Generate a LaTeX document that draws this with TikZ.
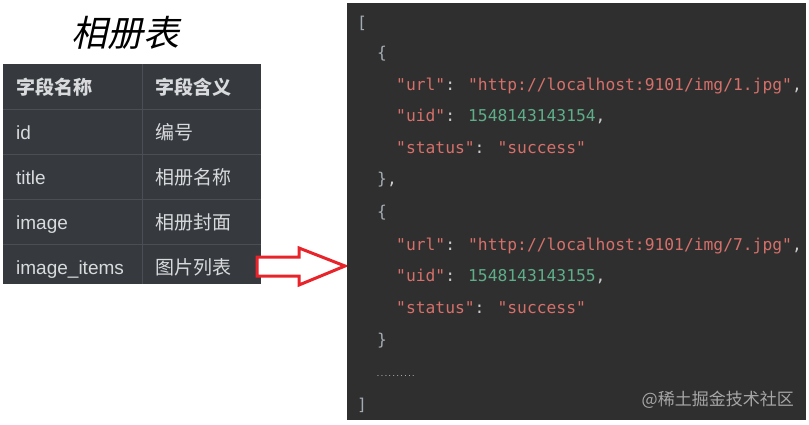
\documentclass[tikz,border=0pt]{standalone}
\usepackage{fontspec}
\setmainfont{Liberation Sans}
\newfontfamily\cjk{Noto Sans CJK SC}
\newfontfamily\cjkslant[FakeSlant=0.22]{Noto Sans CJK SC}
\newfontfamily\codefont{DejaVu Sans Mono}
\definecolor{tablebg}{HTML}{363A3F}
\definecolor{tableline}{HTML}{4A4F55}
\definecolor{tabletext}{HTML}{D8DADC}
\definecolor{codebg}{HTML}{2F2F2F}
\definecolor{jsonstr}{HTML}{D5706A}
\definecolor{jsonnum}{HTML}{5FAE8A}
\definecolor{jsonpunct}{HTML}{CCCCCC}
\definecolor{jsonbrack}{HTML}{A3ACB4}
\definecolor{arrowred}{HTML}{E8232A}
\newcommand{\js}[1]{\textcolor{jsonstr}{#1}}
\newcommand{\jn}[1]{\textcolor{jsonnum}{#1}}
\newcommand{\jp}[1]{\textcolor{jsonpunct}{#1}}
\begin{document}
\begin{tikzpicture}[x=1pt, y=-1pt,
    cell/.style={anchor=base west, inner sep=0, text=tabletext, font=\fontsize{19}{19}\selectfont\cjk},
    code/.style={anchor=west, inner sep=0, text height=12pt, text depth=3pt, font=\fontsize{16.3}{16.3}\selectfont\codefont}]
    \useasboundingbox (0,0) rectangle (809,424);

    \node[font=\fontsize{36}{36}\selectfont\cjkslant] (title) at (125,33) {相册表};

    \fill[tablebg] (3,64) rectangle (261,284);
    \foreach \y in {109,154,199,244}
        \draw[tableline] (3,\y) -- (261,\y);
    \draw[tableline] (142,64) -- (142,284);
    \node[cell, font=\fontsize{19}{19}\selectfont\cjk\bfseries] (head-f) at (16,94) {字段名称};
    \node[cell, font=\fontsize{19}{19}\selectfont\cjk\bfseries] (head-m) at (155,94) {字段含义};
    \foreach \fld/\desc [count=\r] in {id/编号, title/相册名称, image/相册封面, image\_items/图片列表} {
        \node[cell, font=\fontsize{19}{19}\selectfont\rmfamily] (f-\r) at (16,94+45*\r) {\fld};
        \node[cell] (m-\r) at (155,94+45*\r) {\desc};
    }

    \draw[arrowred, line width=3pt, fill=white, line join=miter]
        (257,257) -- (299,257) -- (299,248) -- (345,266) -- (299,285) -- (299,276) -- (257,276) -- cycle;

    \fill[codebg] (347,3) rectangle (806,420);
    \node[code, text=jsonbrack] (l1) at (357,24) {[};
    \node[code, text=jsonbrack] (l2) at (377,54) {\{};
    \node[code] (l3) at (396,86) {\js{"url"}\jp{: }\js{"http://localhost:9101/img/1.jpg"}\jp{,}};
    \node[code] (l4) at (396,117) {\js{"uid"}\jp{: }\jn{1548143143154}\jp{,}};
    \node[code] (l5) at (396,149) {\js{"status"}\jp{: }\js{"success"}};
    \node[code, text=jsonbrack] (l6) at (377,180) {\}\jp{,}};
    \node[code, text=jsonbrack] (l7) at (377,213) {\{};
    \node[code] (l8) at (396,246) {\js{"url"}\jp{: }\js{"http://localhost:9101/img/7.jpg"}\jp{,}};
    \node[code] (l9) at (396,277) {\js{"uid"}\jp{: }\jn{1548143143155}\jp{,}};
    \node[code] (l10) at (396,309) {\js{"status"}\jp{: }\js{"success"}};
    \node[code, text=jsonbrack] (l11) at (377,341) {\}};
    \node[anchor=west, inner sep=0, text=jsonpunct, font=\fontsize{6.5}{6.5}\selectfont\codefont] (dots) at (376,376) {..........};
    \node[code, text=jsonbrack] (l12) at (357,406) {]};

    \node[anchor=east, inner sep=0, text=gray!70, font=\fontsize{17}{17}\selectfont\cjk] (mark) at (794,400) {@稀土掘金技术社区};
\end{tikzpicture}
\end{document}
